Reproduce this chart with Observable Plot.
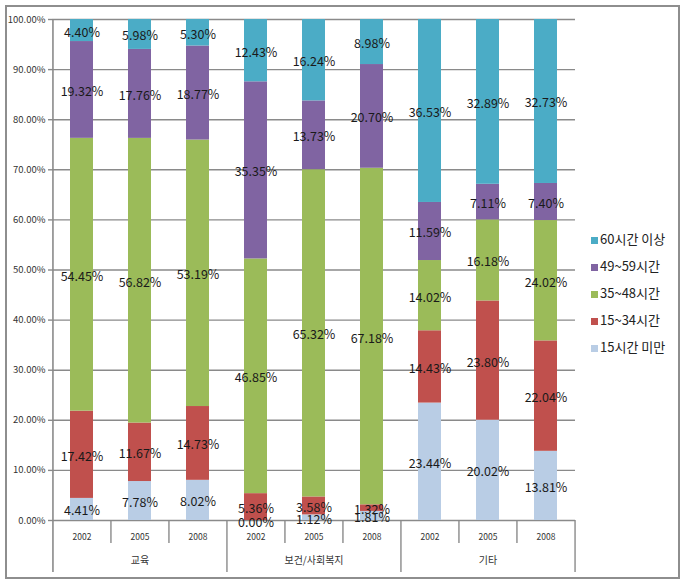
<!DOCTYPE html>
<html>
<head>
<meta charset="utf-8">
<script src="https://cdn.jsdelivr.net/npm/d3@7"></script>
<script src="https://cdn.jsdelivr.net/npm/@observablehq/plot@0.6"></script>
<style>
  html, body { margin: 0; padding: 0; background: #fff; }
  #wrap { position: relative; width: 685px; height: 585px; }
  #frame { position: absolute; left: 5px; top: 5px; width: 671px; height: 570px; border: 2px solid #8e8e8e; box-sizing: content-box; }
  #chart { position: absolute; left: 0; top: 0; }
  #legend { position: absolute; left: 591px; top: 229px; font-family: 'Noto Sans CJK KR', sans-serif; font-size: 13px; color: #222; }
  #legend .item { height: 27px; line-height: 20px; white-space: nowrap; }
  #legend .sw { display: inline-block; width: 7px; height: 7px; margin-right: 2px; vertical-align: 0px; }
</style>
</head>
<body>
<div id="wrap">
  <div id="frame"></div>
  <div id="chart"></div>
  <div id="legend"></div>
</div>
<script>
// ---- data ----
const groups = ["교육", "보건/사회복지", "기타"];
const years = ["2002", "2005", "2008"];
// series in stacking order (bottom to top)
const seriesNames = ["15시간 미만", "15~34시간", "35~48시간", "49~59시간", "60시간 이상"];
const seriesColors = ["#B9CDE5", "#C0504D", "#9BBB59", "#8064A2", "#4BACC6"];
// values per bar: 교육 2002/2005/2008, 보건/사회복지 2002/2005/2008, 기타 2002/2005/2008
const under15 = [4.41, 7.78, 8.02, 0.00, 1.12, 1.81, 23.44, 20.02, 13.81];
const h15to34 = [17.42, 11.67, 14.73, 5.36, 3.58, 1.32, 14.43, 23.80, 22.04];
const h35to48 = [54.45, 56.82, 53.19, 46.85, 65.32, 67.18, 14.02, 16.18, 24.02];
const h49to59 = [19.32, 17.76, 18.77, 35.35, 13.73, 20.70, 11.59, 7.11, 7.40];
const over60 = [4.40, 5.98, 5.30, 12.43, 16.24, 8.98, 36.53, 32.89, 32.73];
const yTicks = [0, 10, 20, 30, 40, 50, 60, 70, 80, 90, 100];
const legendOrder = ["60시간 이상", "49~59시간", "35~48시간", "15~34시간", "15시간 미만"];

// ---- build table ----
const seriesValues = [under15, h15to34, h35to48, h49to59, over60];
const keys = [];
const barInfo = [];
groups.forEach((g, gi) => years.forEach((y, yi) => {
  const key = g + "|" + y;
  keys.push(key);
  barInfo.push({key, group: g, year: y, yi, gi});
}));
const rows = [];
seriesNames.forEach((s, si) => {
  keys.forEach((k, i) => rows.push({key: k, series: s, value: seriesValues[si][i]}));
});

// ---- layout ----
const W = 685, H = 585;
const mL = 52, mR = 110, mT = 19, mB = 65;
const plotH = H - mT - mB;
const step = (W - mL - mR) / keys.length;
const font = "'Noto Sans CJK KR', 'Noto Sans', sans-serif";

const chart = Plot.plot({
  width: W,
  height: H,
  marginLeft: mL,
  marginRight: mR,
  marginTop: mT,
  marginBottom: mB,
  style: {fontFamily: font, fontSize: "12px", background: "transparent", color: "#222"},
  x: {domain: keys, paddingInner: 0.6, paddingOuter: 0.3, label: null},
  y: {domain: [0, 100], label: null},
  color: {domain: seriesNames, range: seriesColors},
  marks: [
    Plot.gridY(yTicks, {stroke: "#8a8a8a", strokeOpacity: 1, strokeWidth: 1.4}),
    Plot.barY(rows, Plot.stackY({x: "key", y: "value", fill: "series"})),
    Plot.text(rows, Plot.stackY({
      x: "key", y: "value",
      text: d => d.value.toFixed(2) + "%",
      fontSize: 12.5, fill: "#1a1a1a", dy: 2
    })),
    Plot.axisY({
      ticks: yTicks, tickFormat: d => d.toFixed(2) + "%",
      tickSize: 4, tickPadding: 3, fontSize: 9.5, fill: "#333", stroke: "#8a8a8a", strokeWidth: 1.4, label: null
    }),
    Plot.axisX({
      tickFormat: k => k.split("|")[1], tickSize: 0, tickPadding: 13,
      fontSize: 8.5, fill: "#333", label: null
    }),
    // group labels
    Plot.text(groups, {
      x: g => g + "|" + years[1], frameAnchor: "bottom", dy: 43,
      text: d => d, fontSize: 10, fill: "#333"
    }),
    // short dividers between years
    Plot.ruleX(barInfo.filter(d => d.yi !== 0), {
      x: "key", dx: -step / 2, insetTop: plotH, insetBottom: -23,
      stroke: "#8a8a8a", strokeWidth: 1.4
    }),
    // long dividers between groups
    Plot.ruleX(barInfo.filter(d => d.yi === 0 && d.gi !== 0), {
      x: "key", dx: -step / 2, insetTop: plotH, insetBottom: -52,
      stroke: "#8a8a8a", strokeWidth: 1.4
    }),
    // left axis line
    Plot.ruleX(barInfo.filter(d => d.gi === 0 && d.yi === 0), {
      x: "key", dx: -step / 2, insetTop: 0, insetBottom: -52,
      stroke: "#8a8a8a", strokeWidth: 1.6
    }),
    // right end divider
    Plot.ruleX(barInfo.slice(-1), {
      x: "key", dx: step / 2, insetTop: plotH, insetBottom: -52,
      stroke: "#8a8a8a", strokeWidth: 1.4
    })
  ]
});
document.getElementById("chart").appendChild(chart);

// legend
const colorOf = Object.fromEntries(seriesNames.map((s, i) => [s, seriesColors[i]]));
const legend = document.getElementById("legend");
legendOrder.forEach(s => {
  const div = document.createElement("div");
  div.className = "item";
  div.innerHTML = `<span class="sw" style="background:${colorOf[s]}"></span>${s}`;
  legend.appendChild(div);
});
</script>
</body>
</html>
